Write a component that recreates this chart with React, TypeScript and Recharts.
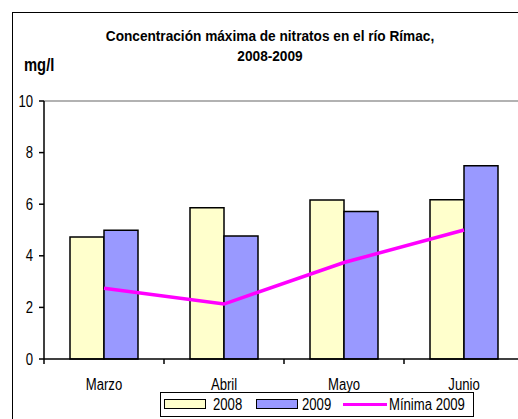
import React from 'react';
import { ComposedChart, Bar, Line, XAxis, YAxis, ReferenceLine } from 'recharts';

const categories = ['Marzo', 'Abril', 'Mayo', 'Junio'];
const values2008 = [4.73, 5.86, 6.16, 6.17];
const values2009 = [4.99, 4.77, 5.72, 7.49];
const minima2009 = [2.74, 2.13, 3.74, 5.0];
const yTicks = [0, 2, 4, 6, 8, 10];
const seriesNames = ['2008', '2009', 'Mínima 2009'];
const seriesColors = ['#FFFFCC', '#9999FF', '#FF00FF'];

const data = categories.map((c, i) => ({
  mes: c,
  y2008: values2008[i],
  y2009: values2009[i],
  min2009: minima2009[i],
}));

const FONT = '"Liberation Sans", Arial, sans-serif';
const NARROW = 0.82;

const XTick = (props: any) => {
  const { x, y, payload } = props;
  const off = payload && payload.offset ? payload.offset : 60;
  return (
    <g>
      <line x1={x - off} y1={y - 8} x2={x - off} y2={y - 3} stroke="#000" strokeWidth={1.5} />
      <text
        transform={`translate(${x},${y + 23}) scale(${NARROW},1)`}
        x={0}
        y={0}
        textAnchor="middle"
        fontSize={16}
        fill="#000"
        fontFamily={FONT}
      >
        {payload.value}
      </text>
    </g>
  );
};

const YTick = (props: any) => {
  const { x, y, payload } = props;
  return (
    <text
      transform={`translate(${x - 4},${y + 5.5}) scale(${NARROW},1)`}
      x={0}
      y={0}
      textAnchor="end"
      fontSize={16}
      fill="#000"
      fontFamily={FONT}
    >
      {payload.value}
    </text>
  );
};

const itemLeft = [3, 95, 182];
const textLeft = [52, 141, 228];

const LegendBox = () => (
  <div
    style={{
      position: 'absolute',
      left: 160,
      top: 392,
      width: 312,
      height: 23,
      border: '1px solid #000',
      background: '#fff',
      fontFamily: FONT,
      fontSize: 16,
      color: '#000',
    }}
  >
    {seriesNames.map((name, i) => (
      <React.Fragment key={i}>
        {i === 2 ? (
          <div
            style={{
              position: 'absolute',
              left: itemLeft[i],
              top: 10,
              width: 44,
              height: 3,
              background: seriesColors[i],
            }}
          />
        ) : (
          <div
            style={{
              position: 'absolute',
              left: itemLeft[i],
              top: 6,
              width: 40,
              height: 8,
              background: seriesColors[i],
              border: '1.5px solid #000',
            }}
          />
        )}
        <span
          style={{
            position: 'absolute',
            left: textLeft[i],
            top: 2,
            lineHeight: '19px',
            whiteSpace: 'nowrap',
            transform: `scaleX(${NARROW})`,
            transformOrigin: 'left center',
          }}
        >
          {name}
        </span>
      </React.Fragment>
    ))}
  </div>
);

export default function App() {
  return (
    <div
      style={{
        position: 'absolute',
        left: 0,
        top: 0,
        width: 518,
        height: 419,
        overflow: 'hidden',
        background: '#fff',
      }}
    >
      <div
        style={{
          position: 'absolute',
          left: 12,
          top: 12,
          width: 540,
          height: 440,
          border: '1px solid #000',
        }}
      />
      <div
        style={{
          position: 'absolute',
          left: 20,
          width: 500,
          top: 26,
          textAlign: 'center',
          fontFamily: FONT,
          fontWeight: 'bold',
          fontSize: 15,
          lineHeight: '20px',
          color: '#000',
          whiteSpace: 'nowrap',
          transform: 'scaleX(0.91)',
          transformOrigin: '250px 0',
        }}
      >
        Concentración máxima de nitratos en el río Rímac,
        <br />
        2008-2009
      </div>
      <div
        style={{
          position: 'absolute',
          left: 24,
          top: 54,
          fontFamily: FONT,
          fontWeight: 'bold',
          fontSize: 18,
          lineHeight: '22px',
          color: '#000',
          transform: `scaleX(${NARROW})`,
          transformOrigin: 'left center',
        }}
      >
        mg/l
      </div>
      <div style={{ position: 'absolute', left: 0, top: 0 }}>
        <ComposedChart
          width={530}
          height={419}
          data={data}
          margin={{ top: 101, right: 6, bottom: 30, left: 0 }}
          barCategoryGap={26}
          barGap={0}
        >
          <ReferenceLine y={10} stroke="#999" strokeWidth={1.5} />
          <XAxis
            dataKey="mes"
            height={30}
            axisLine={{ stroke: '#000', strokeWidth: 1.5 }}
            tickLine={false}
            tick={<XTick />}
            interval={0}
          />
          <YAxis
            width={44}
            domain={[0, 10]}
            ticks={yTicks}
            axisLine={{ stroke: '#000', strokeWidth: 1.5 }}
            tickLine={{ stroke: '#000', strokeWidth: 1.5 }}
            tickSize={5}
            tick={<YTick />}
          />
          <Bar
            dataKey="y2008"
            name={seriesNames[0]}
            fill={seriesColors[0]}
            stroke="#000"
            strokeWidth={1.5}
            isAnimationActive={false}
          />
          <Bar
            dataKey="y2009"
            name={seriesNames[1]}
            fill={seriesColors[1]}
            stroke="#000"
            strokeWidth={1.5}
            isAnimationActive={false}
          />
          <Line
            dataKey="min2009"
            name={seriesNames[2]}
            stroke={seriesColors[2]}
            strokeWidth={3.5}
            dot={false}
            isAnimationActive={false}
          />
        </ComposedChart>
      </div>
      <LegendBox />
    </div>
  );
}
